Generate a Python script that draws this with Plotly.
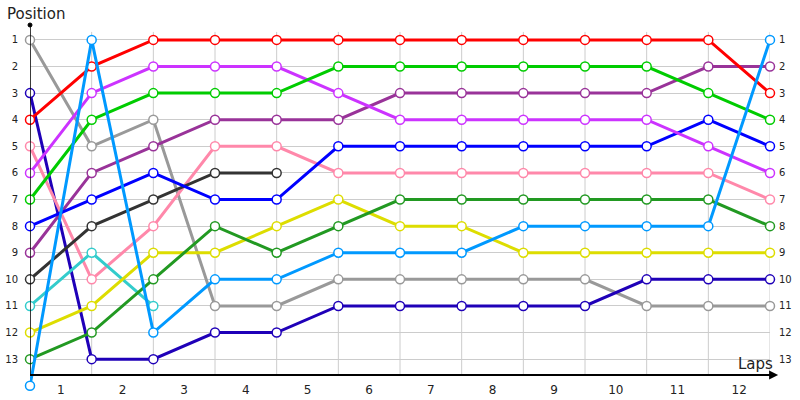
import plotly.graph_objects as go

# Lap boundaries (x) and positions (y)
laps = list(range(13))
lap_labels = [str(i) for i in range(1, 13)]
positions = list(range(1, 14))

# Position of each car at each lap boundary
red = [4, 2, 1, 1, 1, 1, 1, 1, 1, 1, 1, 1, 3]
magenta = [6, 3, 2, 2, 2, 3, 4, 4, 4, 4, 4, 5, 6]
green = [7, 4, 3, 3, 3, 2, 2, 2, 2, 2, 2, 3, 4]
grey = [1, 5, 4, 11, 11, 10, 10, 10, 10, 10, 11, 11, 11]
purple = [9, 6, 5, 4, 4, 4, 3, 3, 3, 3, 3, 2, 2]
blue = [8, 7, 6, 7, 7, 5, 5, 5, 5, 5, 5, 4, 5]
navy = [3, 13, 13, 12, 12, 11, 11, 11, 11, 11, 10, 10, 10]
pink = [5, 10, 8, 5, 5, 6, 6, 6, 6, 6, 6, 6, 7]
dark_grey = [10, 8, 7, 6, 6]
cyan = [11, 9, 11]
yellow = [12, 11, 9, 9, 8, 7, 8, 8, 9, 9, 9, 9, 9]
dark_green = [13, 12, 10, 8, 9, 8, 7, 7, 7, 7, 7, 7, 8]
sky = [14, 1, 12, 10, 10, 9, 9, 9, 8, 8, 8, 8, 1]

series = [
    (grey, '#999999'),
    (navy, '#1f00b8'),
    (pink, '#ff88aa'),
    (cyan, '#33cccc'),
    (dark_grey, '#333333'),
    (yellow, '#dddd00'),
    (dark_green, '#229922'),
    (purple, '#993399'),
    (blue, '#0000ff'),
    (magenta, '#cc33ff'),
    (green, '#00cc00'),
    (red, '#ff0000'),
    (sky, '#0099ff'),
]

fig = go.Figure()
for vals, col in series:
    fig.add_trace(go.Scatter(
        x=laps[:len(vals)], y=vals, mode='lines+markers',
        line=dict(color=col, width=3),
        marker=dict(symbol='circle', size=9, color='white', line=dict(color=col, width=1.5)),
        cliponaxis=False, hoverinfo='skip', showlegend=False))

# invisible trace so the right-hand position axis is drawn
fig.add_trace(go.Scatter(x=[laps[-1]] * len(positions), y=positions, yaxis='y2', mode='markers',
                         marker=dict(opacity=0), hoverinfo='skip', showlegend=False))

# y range goes a bit below the axis so the pit-lane start (14) shows under it
y_top, y_bottom, y_axis = 0.44, 14.31, 13.6
yrange = [y_bottom, y_top]
axis_pos = (y_bottom - y_axis) / (y_bottom - y_top)
tickfont = dict(family='DejaVu Sans', size=10, color='#222222')

fig.update_layout(
    width=800, height=400,
    margin=dict(l=30, r=30, t=25, b=6),
    paper_bgcolor='white', plot_bgcolor='white',
    font=dict(family='DejaVu Sans', color='#222222'),
    xaxis=dict(range=[0, 12], tickmode='array', tickvals=[i + 0.5 for i in laps[:-1]], ticktext=lap_labels,
               anchor='free', position=axis_pos, automargin=False,
               showgrid=False, zeroline=False, showline=True, linecolor='black', linewidth=1.5,
               ticks='outside', ticklen=4, tickcolor='rgba(0,0,0,0)',
               tickfont=dict(family='DejaVu Sans', size=12, color='#222222')),
    yaxis=dict(range=yrange, tickmode='array', tickvals=positions, showgrid=True, gridcolor='#cccccc',
               zeroline=False, showline=False, automargin=False,
               ticks='outside', ticklen=9, tickcolor='rgba(0,0,0,0)', tickfont=tickfont),
    yaxis2=dict(range=yrange, overlaying='y', side='right', tickmode='array', tickvals=positions,
                showgrid=False, zeroline=False, showline=False, automargin=False,
                ticks='outside', ticklen=6, tickcolor='rgba(0,0,0,0)', tickfont=tickfont),
)

# vertical grid lines at lap boundaries, stopping at the axis
for lx in laps:
    fig.add_shape(type='line', xref='x', yref='y', x0=lx, x1=lx, y0=y_axis, y1=0.7,
                  line=dict(color='#cccccc', width=1), layer='below')

# y axis line with a dot on top, x axis arrow
fig.add_shape(type='line', xref='x', yref='y', x0=0, x1=0, y0=y_axis, y1=y_top,
              line=dict(color='black', width=1.5))
fig.add_shape(type='circle', xref='paper', yref='paper', xsizemode='pixel', ysizemode='pixel',
              xanchor=0, yanchor=1, x0=-2, x1=2, y0=-2, y1=2, fillcolor='black', line=dict(color='black', width=1))
fig.add_annotation(xref='paper', yref='paper', x=1.011, y=axis_pos, ax=-12, ay=0, text='', showarrow=True,
                   arrowhead=2, arrowsize=1.2, arrowwidth=1.5, arrowcolor='black')

fig.add_annotation(xref='paper', yref='paper', x=-0.034, y=1, xanchor='left', yanchor='bottom',
                   text='Position', showarrow=False, font=dict(family='DejaVu Sans', size=15, color='#222222'))
fig.add_annotation(xref='paper', yref='paper', x=1.007, y=axis_pos, xanchor='right', yanchor='bottom', yshift=0,
                   text='Laps', showarrow=False, font=dict(family='DejaVu Sans', size=15, color='#222222'))

# drop the page's default body margin so the figure fills the window
fig.write_html("out.html", config={'displayModeBar': False},
               post_script="document.body.style.margin='0';")
